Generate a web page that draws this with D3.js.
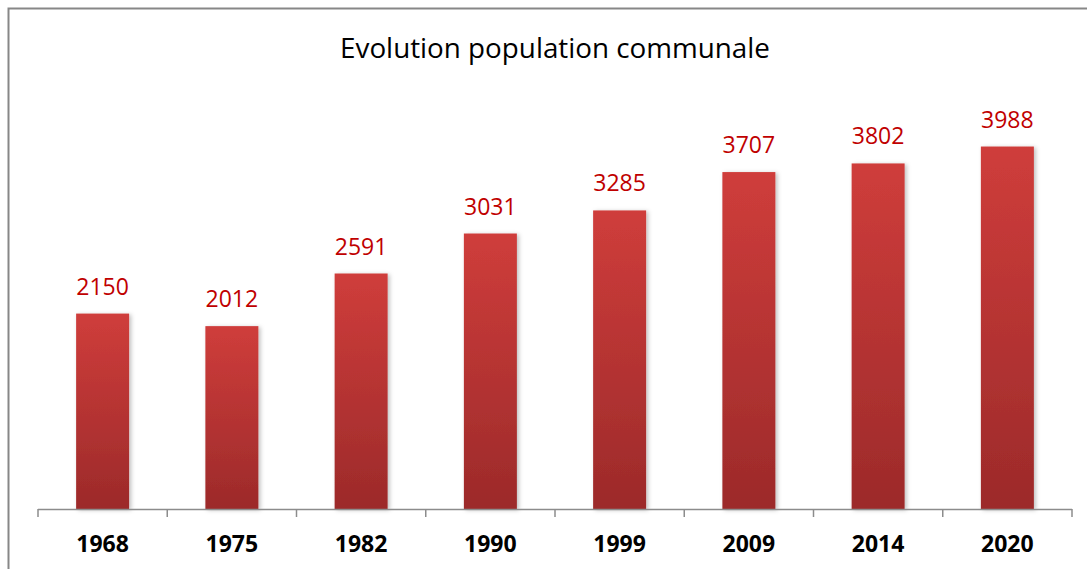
<!DOCTYPE html>
<html lang="fr">
<head>
  <meta charset="utf-8">
  <title>Evolution population communale</title>
  <script src="https://d3js.org/d3.v7.min.js"></script>
  <style>
	body {
	  margin: 0;
	  background: #fff;
	  font-family: "Open Sans", "Noto Sans", Arial, sans-serif;
	}
  </style>
</head>
<body>
  <script>
	// population per census year
	var years = ["1968", "1975", "1982", "1990", "1999", "2009", "2014", "2020"];
	var population = [2150, 2012, 2591, 3031, 3285, 3707, 3802, 3988];
	var yDomain = [0, 4500];

	var w = 1087;
	var h = 569;
	var plotLeft = 38, plotRight = 1072;
	var plotBase = 509, plotTop = 100;

	var svg = d3.select("body")
	.append("svg")
	.attr("width", w)
	.attr("height", h);

	var defs = svg.append("defs");
	var grad = defs.append("linearGradient")
	.attr("id", "barGrad")
	.attr("x1", 0).attr("y1", 0).attr("x2", 0).attr("y2", 1);
	grad.append("stop").attr("offset", "0%").attr("stop-color", "#cf3d3b");
	grad.append("stop").attr("offset", "100%").attr("stop-color", "#9c2a2a");

	var shadow = defs.append("filter")
	.attr("id", "shadow")
	.attr("x", "-20%").attr("y", "-10%").attr("width", "150%").attr("height", "130%");
	shadow.append("feDropShadow")
	.attr("dx", 2).attr("dy", 1).attr("stdDeviation", 2)
	.attr("flood-color", "#000").attr("flood-opacity", 0.25);

	// chart area border (runs off the right and bottom edge)
	svg.append("rect")
	.attr("x", 8.5).attr("y", 8.5)
	.attr("width", w + 20).attr("height", h + 20)
	.attr("fill", "none")
	.attr("stroke", "#878787")
	.attr("stroke-width", 2);

	svg.append("text")
	.attr("x", 555)
	.attr("y", 58)
	.attr("text-anchor", "middle")
	.style("font-size", "27.8px")
	.style("fill", "#000")
	.text("Evolution population communale");

	var xScale = d3.scaleBand().domain(years).range([plotLeft, plotRight]).paddingInner(0.59).paddingOuter(0.295);
	var yScale = d3.scaleLinear().domain(yDomain).range([plotBase, plotTop]);

	svg.selectAll("rect.bar")
	.data(population)
	.enter()
	.append("rect")
	.attr("class", "bar")
	.attr("x", function (d, i) { return xScale(years[i]); })
	.attr("y", function (d) { return yScale(d); })
	.attr("width", xScale.bandwidth())
	.attr("height", function (d) { return plotBase - yScale(d); })
	.attr("fill", "url(#barGrad)")
	.attr("filter", "url(#shadow)");

	svg.selectAll("text.val")
	.data(population)
	.enter()
	.append("text")
	.attr("class", "val")
	.attr("x", function (d, i) { return xScale(years[i]) + xScale.bandwidth() / 2; })
	.attr("y", function (d) { return yScale(d) - 19; })
	.attr("text-anchor", "middle")
	.style("font-size", "23px")
	.style("fill", "#c00000")
	.text(function (d) { return d; });

	// category axis, ticks between the bars
	var step = (plotRight - plotLeft) / years.length;
	var axis = svg.append("g").attr("class", "bottomAxis");
	axis.append("line")
	.attr("x1", plotLeft).attr("x2", plotRight)
	.attr("y1", plotBase + 0.5).attr("y2", plotBase + 0.5)
	.attr("stroke", "#8c8c8c").attr("stroke-width", 1.5);
	axis.selectAll("line.tick")
	.data(d3.range(years.length + 1))
	.enter()
	.append("line")
	.attr("class", "tick")
	.attr("x1", function (i) { return plotLeft + i * step; })
	.attr("x2", function (i) { return plotLeft + i * step; })
	.attr("y1", plotBase).attr("y2", plotBase + 8)
	.attr("stroke", "#8c8c8c").attr("stroke-width", 1.5);

	axis.selectAll("text")
	.data(years)
	.enter()
	.append("text")
	.attr("x", function (d) { return xScale(d) + xScale.bandwidth() / 2; })
	.attr("y", 552)
	.attr("text-anchor", "middle")
	.style("font-size", "23px")
	.style("font-weight", "bold")
	.style("fill", "#000")
	.text(function (d) { return d; });
  </script>
</body>
</html>
